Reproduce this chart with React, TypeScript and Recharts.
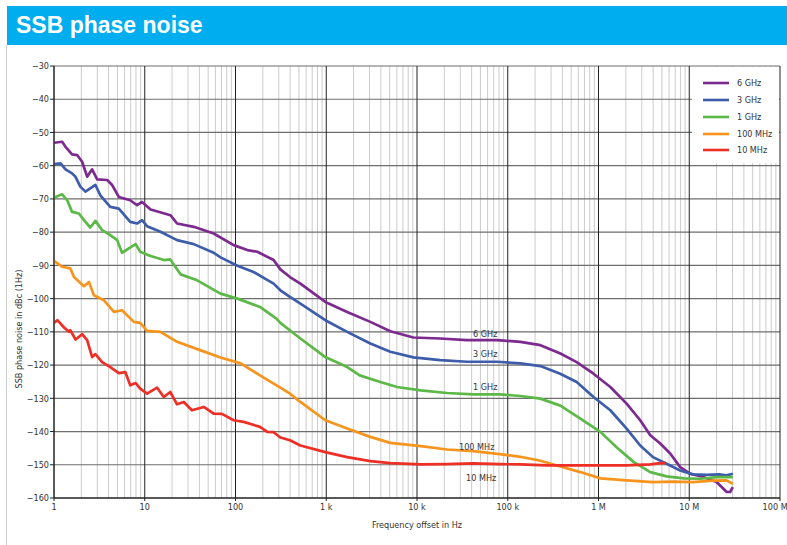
import React from 'react';
import { LineChart, Line, XAxis, YAxis, ReferenceLine, ReferenceDot, Legend } from 'recharts';

const FONT = "'Liberation Sans Narrow', 'DejaVu Sans Condensed', 'Arial Narrow', sans-serif";

const xTicks = [1, 10, 100, 1e3, 1e4, 1e5, 1e6, 1e7, 1e8];
const xTickLabels = ['1', '10', '100', '1 k', '10 k', '100 k', '1 M', '10 M', '100 M'];
const yTicks = [-30, -40, -50, -60, -70, -80, -90, -100, -110, -120, -130, -140, -150, -160];
const minorMultipliers = [2, 3, 4, 5, 6, 7, 8, 9];

const seriesNames = ['6 GHz', '3 GHz', '1 GHz', '100 MHz', '10 MHz'];
const seriesColors = ['#7c2a8f', '#3d5dab', '#5cb947', '#f7941e', '#ee2f26'];

const ghz6: [number, number][] = [
  [1, -53.1], [1.23, -52.8], [1.34, -54.3], [1.58, -56.6], [1.8, -56.8], [2.04, -58.8], [2.32, -63.3],
  [2.63, -61.1], [2.99, -64.1], [3.85, -64.3], [4.37, -65.8], [5.18, -69.4], [6.92, -70.4], [8.24, -71.9],
  [9.33, -70.9], [11.6, -73.2], [19.2, -74.9], [22.7, -77.4], [34.7, -78.4], [57.5, -80.4], [95.5, -83.9],
  [135, -85.4], [174, -85.9], [263, -88.4], [312, -91.2], [398, -93.5], [519, -95.5], [977, -101.0],
  [1700, -104.0], [3060, -107.0], [5080, -109.8], [9120, -111.7], [18000, -112.0], [35500, -112.5],
  [75900, -112.5], [138000, -113.0], [229000, -114.0], [380000, -116.5], [575000, -119.1], [881000, -122.6],
  [1.35e6, -126.6], [2.04e6, -131.6], [2.88e6, -136.6], [3.72e6, -141.1], [4.79e6, -143.6], [6.17e6, -146.6],
  [7.94e6, -150.7], [1.02e7, -152.7], [1.43e7, -153.7], [2.0e7, -155.2], [2.59e7, -158.2], [2.82e7, -158.2],
  [3.02e7, -156.7],
];

const ghz3: [number, number][] = [
  [1, -59.5], [1.18, -59.3], [1.34, -61.1], [1.58, -62.3], [1.72, -63.3], [1.95, -66.3], [2.22, -67.8],
  [2.51, -66.8], [2.86, -65.8], [3.24, -68.9], [4.17, -72.4], [5.18, -72.9], [6.92, -76.9], [8.24, -77.4],
  [9.33, -76.4], [10.6, -78.2], [14.9, -79.9], [22.7, -82.4], [34.7, -83.6], [57.5, -86.2], [68.4, -87.6],
  [105, -90.1], [158, -92.0], [263, -95.5], [312, -97.5], [398, -99.5], [519, -101.5], [977, -106.5],
  [1700, -110.0], [3060, -113.5], [5080, -116.0], [9120, -117.7], [18000, -118.5], [35500, -119.0],
  [75900, -119.0], [138000, -119.5], [229000, -120.3], [378000, -122.6], [575000, -125.1], [881000, -129.6],
  [1.35e6, -133.6], [2.04e6, -139.1], [2.88e6, -144.2], [3.98e6, -147.7], [5.62e6, -149.7], [7.94e6, -151.7],
  [1.1e7, -152.9], [1.55e7, -153.0], [2.14e7, -152.9], [2.57e7, -153.2], [3.02e7, -152.7],
];

const ghz1: [number, number][] = [
  [1, -69.6], [1.23, -68.6], [1.4, -70.4], [1.58, -73.9], [1.88, -74.4], [2.14, -76.4], [2.51, -78.6],
  [2.86, -76.6], [3.39, -79.4], [4.17, -80.9], [4.97, -82.4], [5.62, -86.2], [6.68, -84.9], [7.94, -83.6],
  [8.91, -85.9], [11.6, -87.2], [16.2, -88.4], [19.1, -88.2], [24.8, -92.7], [37.8, -94.5], [68.4, -98.5],
  [105, -100.0], [186, -102.5], [282, -106.0], [312, -107.3], [519, -112.0], [977, -117.6], [1700, -120.6],
  [2340, -123.1], [3940, -125.1], [6030, -126.6], [11000, -127.6], [21400, -128.4], [41700, -128.8],
  [81300, -128.8], [138000, -129.3], [229000, -130.1], [380000, -132.2], [631000, -136.1], [1.05e6, -140.1],
  [1.58e6, -144.7], [2.45e6, -149.2], [3.72e6, -152.2], [5.62e6, -153.5], [8.71e6, -154.1], [1.32e7, -154.2],
  [2.0e7, -153.7], [3.02e7, -153.7],
];

const mhz100: [number, number][] = [
  [1, -88.6], [1.23, -90.4], [1.51, -90.9], [1.66, -93.5], [2.14, -96.3], [2.43, -95.0], [2.75, -99.0],
  [3.55, -100.5], [4.57, -104.0], [5.62, -103.5], [7.59, -107.0], [8.91, -107.3], [10.6, -109.7],
  [14.9, -110.0], [22.7, -113.0], [40.7, -115.5], [68.4, -117.7], [114, -119.5], [186, -123.1],
  [312, -126.8], [398, -128.6], [519, -131.1], [977, -136.6], [1700, -139.1], [3060, -141.6], [5080, -143.4],
  [11000, -144.4], [21400, -145.4], [41700, -145.9], [81300, -146.8], [138000, -147.6], [229000, -148.8],
  [380000, -150.5], [631000, -152.2], [1.05e6, -154.1], [2.04e6, -154.7], [3.98e6, -155.2], [6.76e6, -155.1],
  [1.1e7, -155.2], [1.82e7, -154.8], [2.57e7, -154.7], [3.02e7, -155.7],
];

const mhz10: [number, number][] = [
  [1, -107.3], [1.09, -106.5], [1.29, -108.7], [1.46, -110.0], [1.51, -109.5], [1.73, -112.3], [2.04, -110.7],
  [2.32, -112.5], [2.63, -117.6], [2.86, -116.7], [3.39, -119.1], [4.17, -120.6], [5.18, -122.4],
  [6.11, -122.1], [6.92, -126.1], [7.94, -125.4], [8.91, -127.1], [10.6, -128.6], [13.7, -126.8],
  [16.2, -129.6], [19.1, -128.1], [22.7, -131.8], [26.9, -131.1], [33.1, -133.6], [44.7, -132.6],
  [57.5, -134.6], [70.8, -134.7], [95.5, -136.6], [123, -137.1], [186, -138.6], [224, -140.1], [263, -140.2],
  [312, -141.8], [398, -142.6], [519, -144.2], [977, -146.2], [1700, -147.7], [3060, -148.9], [5080, -149.5],
  [11000, -149.9], [21400, -149.8], [41700, -149.6], [81300, -149.8], [138000, -149.9], [269000, -150.2],
  [631000, -150.2], [881000, -150.2], [2.04e6, -150.2], [3.72e6, -149.9], [4.79e6, -149.5], [5.56e6, -149.5],
];

const seriesData = [ghz6, ghz3, ghz1, mhz100, mhz10];

// curve annotation positions (frequency, dB)
const curveLabels: [string, number, number][] = [
  ['6 GHz', 56500, -110.7],
  ['3 GHz', 56500, -116.7],
  ['1 GHz', 56500, -126.6],
  ['100 MHz', 45500, -144.7],
  ['10 MHz', 51000, -153.8],
];

const toPoints = (arr: [number, number][]) => arr.map(([f, v]) => ({ f, v }));

const minorX: number[] = [];
for (let d = 0; d < 8; d++) {
  for (const m of minorMultipliers) minorX.push(m * Math.pow(10, d));
}

const renderLegend = () => (
  <div style={{ background: '#fff', width: 87, height: 96, boxSizing: 'border-box', paddingTop: 8 }}>
    {seriesNames.map((n, i) => (
      <div key={n} style={{ display: 'flex', alignItems: 'center', height: 16.75 }}>
        <svg width={26} height={4} style={{ marginLeft: 11, marginRight: 8, display: 'block' }}>
          <line x1={0} y1={2} x2={26} y2={2} stroke={seriesColors[i]} strokeWidth={2.6} />
        </svg>
        <span style={{ fontSize: 9, fontFamily: FONT, color: '#333', lineHeight: '10px' }}>{n}</span>
      </div>
    ))}
  </div>
);

export default function App() {
  return (
    <div style={{ position: 'absolute', left: 0, top: 0, width: 787, height: 545, background: '#fff', overflow: 'hidden' }}>
      <div style={{ position: 'absolute', left: 6, top: 45, width: 1, height: 500, background: '#cfcfcf' }} />
      <div
        style={{
          position: 'absolute', left: 7, top: 6, width: 780, height: 39, background: '#00aeef',
          color: '#fff', fontFamily: "'Liberation Sans', Arial, sans-serif", fontWeight: 'bold',
          fontSize: 23, lineHeight: '39px', paddingLeft: 9, boxSizing: 'border-box',
        }}
      >
        SSB phase noise
      </div>
      <div style={{ position: 'absolute', left: 0, top: 0 }}>
        <LineChart width={787} height={545} margin={{ top: 66, right: 7, left: 14, bottom: 17 }}>
          <XAxis
            dataKey="f"
            type="number"
            scale="log"
            domain={[1, 1e8]}
            ticks={xTicks}
            tickFormatter={(v: number) => xTickLabels[xTicks.indexOf(v)] ?? ''}
            axisLine={{ stroke: '#222' }}
            tickLine={{ stroke: '#222' }}
            tickSize={3}
            tickMargin={3}
            tick={{ fontSize: 9, fontFamily: FONT, fill: '#333' }}
            height={30}
            allowDataOverflow
          />
          <YAxis
            type="number"
            domain={[-160, -30]}
            ticks={yTicks}
            tickFormatter={(v: number) => String(v).replace('-', '\u2212')}
            axisLine={{ stroke: '#222' }}
            tickLine={{ stroke: '#222' }}
            tickSize={4}
            tickMargin={1}
            tick={{ fontSize: 9, fontFamily: FONT, fill: '#333' }}
            width={40}
            allowDataOverflow
          />
          {minorX.map((x) => (
            <ReferenceLine key={'m' + x} x={x} stroke="#cccccc" strokeWidth={1} />
          ))}
          {yTicks.map((y) => (
            <ReferenceLine key={'h' + y} y={y} stroke={y === -160 ? '#222' : '#6e6e6e'} strokeWidth={1.2} />
          ))}
          {xTicks.map((x) => (
            <ReferenceLine key={'d' + x} x={x} stroke="#222" strokeWidth={1} />
          ))}
          {seriesData.map((d, i) => (
            <Line
              key={seriesNames[i]}
              name={seriesNames[i]}
              data={toPoints(d)}
              dataKey="v"
              type="linear"
              stroke={seriesColors[i]}
              strokeWidth={2.7}
              strokeLinejoin="round"
              dot={false}
              activeDot={false}
              isAnimationActive={false}
            />
          ))}
          {curveLabels.map(([t, f, v]) => (
            <ReferenceDot
              key={'l' + t}
              x={f}
              y={v}
              r={0}
              stroke="none"
              fill="none"
              label={{ value: t, position: 'center', fontSize: 9, fontFamily: FONT, fill: '#333' }}
            />
          ))}
          <Legend
            layout="vertical"
            verticalAlign="middle"
            align="center"
            content={renderLegend}
            wrapperStyle={{ position: 'absolute', left: 692, top: 67, width: 87, height: 96, margin: 0, padding: 0 }}
          />
        </LineChart>
      </div>
      <div
        style={{
          position: 'absolute', left: 19, top: 329, transform: 'translate(-50%, -50%) rotate(-90deg)',
          whiteSpace: 'nowrap', fontSize: 9, fontFamily: FONT, color: '#333',
        }}
      >
        SSB phase noise in dBc (1Hz)
      </div>
      <div
        style={{
          position: 'absolute', left: 417, top: 525, transform: 'translate(-50%, -50%)',
          whiteSpace: 'nowrap', fontSize: 9, fontFamily: FONT, color: '#333',
        }}
      >
        Frequency offset in Hz
      </div>
    </div>
  );
}
